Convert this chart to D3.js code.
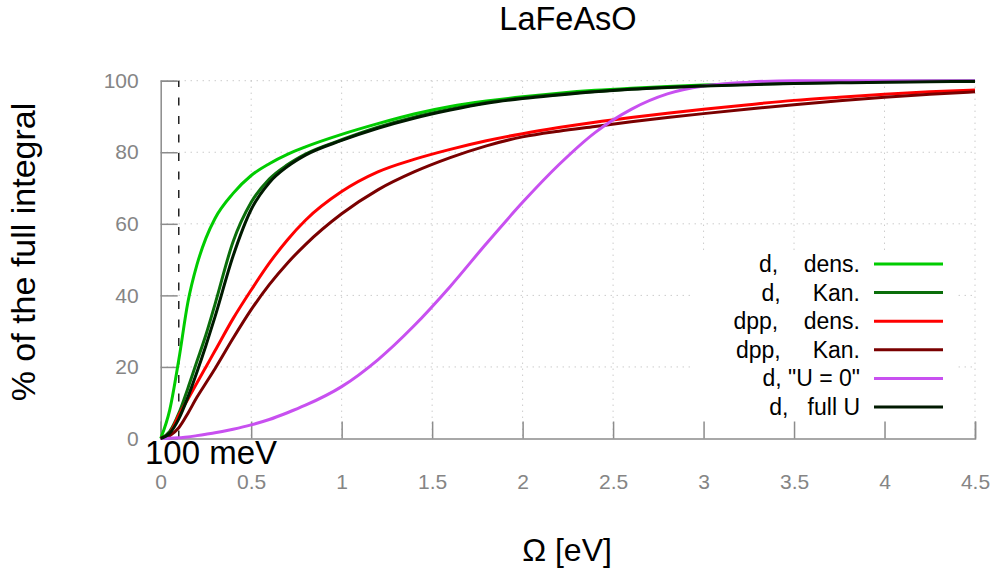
<!DOCTYPE html>
<html>
<head>
<meta charset="utf-8">
<script src="https://cdn.jsdelivr.net/npm/d3@7"></script>
<style>
  html, body { margin: 0; padding: 0; background: #fff; }
  svg { display: block; font-family: "Liberation Sans", Arial, Helvetica, sans-serif; }
</style>
</head>
<body>
<svg id="chart" width="996" height="569"></svg>
<script>
// Cumulative share of the integral versus cutoff frequency Omega (eV)
const omega = [0, 0.05, 0.1, 0.15, 0.2, 0.25, 0.3, 0.4, 0.5, 0.6, 0.7, 0.8, 1.0, 1.2, 1.4, 1.6, 1.8,
               2.0, 2.2, 2.4, 2.6, 2.8, 3.0, 3.25, 3.5, 3.75, 4.0, 4.25, 4.5];

const dDens   = [0, 8, 22, 38, 48.5, 56, 61.5, 68.5, 73.5, 76.8, 79.4, 81.5, 85, 88, 90.7, 92.8, 94.3,
                 95.5, 96.5, 97.3, 97.9, 98.4, 98.8, 99.2, 99.5, 99.7, 99.8, 99.9, 100];
const dKan    = [0, 2, 7, 14, 21.5, 29, 37.5, 55, 66, 72.5, 76.5, 79.5, 83.5, 87, 89.8, 92, 93.9,
                 95.2, 96.2, 97, 97.7, 98.2, 98.6, 99, 99.3, 99.5, 99.7, 99.8, 99.9];
const dppDens = [0, 1.5, 6.5, 11, 15.5, 20, 24.5, 33.5, 41.5, 49, 55.5, 61, 69, 74.5, 78, 80.8, 83.2,
                 85.2, 86.9, 88.4, 89.7, 90.9, 92.0, 93.3, 94.5, 95.4, 96.2, 96.9, 97.4];
const dppKan  = [0, 0.8, 3, 7, 11.5, 15.5, 19.5, 28, 36, 43, 49, 54.2, 62.8, 69.5, 74.5, 78.5, 81.8,
                 84.3, 85.9, 87.2, 88.5, 89.7, 90.8, 92.1, 93.3, 94.4, 95.4, 96.2, 96.9];
const dU0     = [0, 0.05, 0.2, 0.4, 0.8, 1.2, 1.6, 2.6, 3.8, 5.3, 7.2, 9.3, 14.5, 22, 31.5, 42.5, 54.5,
                 66, 76.5, 85.5, 92, 96.3, 98.5, 99.6, 100, 100, 100, 100, 100];
const dFullU  = [0, 1.5, 5.5, 11.5, 18.5, 26, 34, 51, 64, 71.5, 76, 79.2, 83.3, 86.7, 89.5, 91.8, 93.7,
                 95.0, 96.0, 96.9, 97.6, 98.1, 98.5, 98.9, 99.2, 99.4, 99.6, 99.7, 99.8];

const seriesLabels = ["d,    dens.", "d,     Kan.", "dpp,    dens.", "dpp,     Kan.", "d, \"U = 0\"", "d,   full U"];
const seriesValues = [dDens, dKan, dppDens, dppKan, dU0, dFullU];
const seriesColors = ["#00cc00", "#0a6e0a", "#ff0000", "#7a0000", "#c850f0", "#001a00"];

const xTicks = [0, 0.5, 1, 1.5, 2, 2.5, 3, 3.5, 4, 4.5];
const yTicks = [0, 20, 40, 60, 80, 100];
const markerOmega = 0.1;
const markerLabel = "100 meV";

const svg = d3.select("#chart");
const x = d3.scaleLinear().domain([0, 4.5]).range([160.7, 975]);
const y = d3.scaleLinear().domain([0, 100]).range([438.5, 80.7]);

const gridColor = "#b4b4b4";
const axisColor = "#8c8c8c";

// dotted grid
const grid = svg.append("g");
grid.selectAll("line.h").data(yTicks.filter(d => d > 0)).join("line")
  .attr("x1", x(0)).attr("x2", x(4.5))
  .attr("y1", d => y(d)).attr("y2", d => y(d))
  .attr("stroke", gridColor).attr("stroke-width", 1).attr("stroke-dasharray", "1,5");
grid.selectAll("line.v").data(xTicks.filter(d => d > 0)).join("line")
  .attr("x1", d => x(d)).attr("x2", d => x(d))
  .attr("y1", y(100)).attr("y2", y(0))
  .attr("stroke", gridColor).attr("stroke-width", 1).attr("stroke-dasharray", "1,5");

// opaque key box
svg.append("rect").attr("x", 690).attr("y", 250).attr("width", 265).attr("height", y(0) - 250)
  .attr("fill", "#fff");

// axes
const xAxis = d3.axisBottom(x).tickValues(xTicks).tickSize(-17).tickPadding(36)
  .tickFormat(d3.format("~g"));
const yAxis = d3.axisLeft(y).tickValues(yTicks).tickSize(-17).tickPadding(22);

const gx = svg.append("g").attr("transform", `translate(0,${y(0)})`).call(xAxis);
const gy = svg.append("g").attr("transform", `translate(${x(0)},0)`).call(yAxis);
[gx, gy].forEach(g => {
  g.select(".domain").attr("stroke", axisColor).attr("stroke-width", 1.5);
  g.selectAll(".tick line").attr("stroke", axisColor).attr("stroke-width", 1.5);
  g.selectAll(".tick text").attr("fill", "#858585")
    .style("font-family", "'Liberation Sans', Arial, sans-serif").style("font-size", "21px");
});

// marker at 100 meV
svg.append("line")
  .attr("x1", x(markerOmega)).attr("x2", x(markerOmega))
  .attr("y1", y(0)).attr("y2", y(100))
  .attr("stroke", "#000").attr("stroke-width", 1.3).attr("stroke-dasharray", "8,10.5");

// curves
const line = d3.line().x(d => x(d[0])).y(d => y(d[1])).curve(d3.curveMonotoneX);
seriesValues.forEach((vals, i) => {
  svg.append("path")
    .datum(omega.map((o, k) => [o, vals[k]]))
    .attr("d", line)
    .attr("fill", "none")
    .attr("stroke", seriesColors[i])
    .attr("stroke-width", 3)
    .attr("stroke-linejoin", "round");
});

// key
const key = svg.append("g");
const rowY = d3.scaleLinear().domain([0, 5]).range([264, 407]);
seriesLabels.forEach((lab, i) => {
  key.append("text")
    .attr("x", 860).attr("y", rowY(i) + 8)
    .attr("text-anchor", "end")
    .attr("xml:space", "preserve")
    .style("white-space", "pre")
    .style("font-size", "23px")
    .attr("fill", "#000")
    .text(lab);
  key.append("line")
    .attr("x1", 874).attr("x2", 943)
    .attr("y1", rowY(i)).attr("y2", rowY(i))
    .attr("stroke", seriesColors[i]).attr("stroke-width", 3);
});

// titles
svg.append("text").attr("x", 568).attr("y", 29.5).attr("text-anchor", "middle")
  .style("font-size", "32.5px").text("LaFeAsO");
svg.append("text").attr("x", 567).attr("y", 561).attr("text-anchor", "middle")
  .style("font-size", "32px").text("Ω [eV]");
svg.append("text").attr("transform", "translate(35,252) rotate(-90)").attr("text-anchor", "middle")
  .style("font-size", "34px").text("% of the full integral");
svg.append("text").attr("x", 145).attr("y", 463.5)
  .style("font-size", "33px").text(markerLabel);
</script>
</body>
</html>
